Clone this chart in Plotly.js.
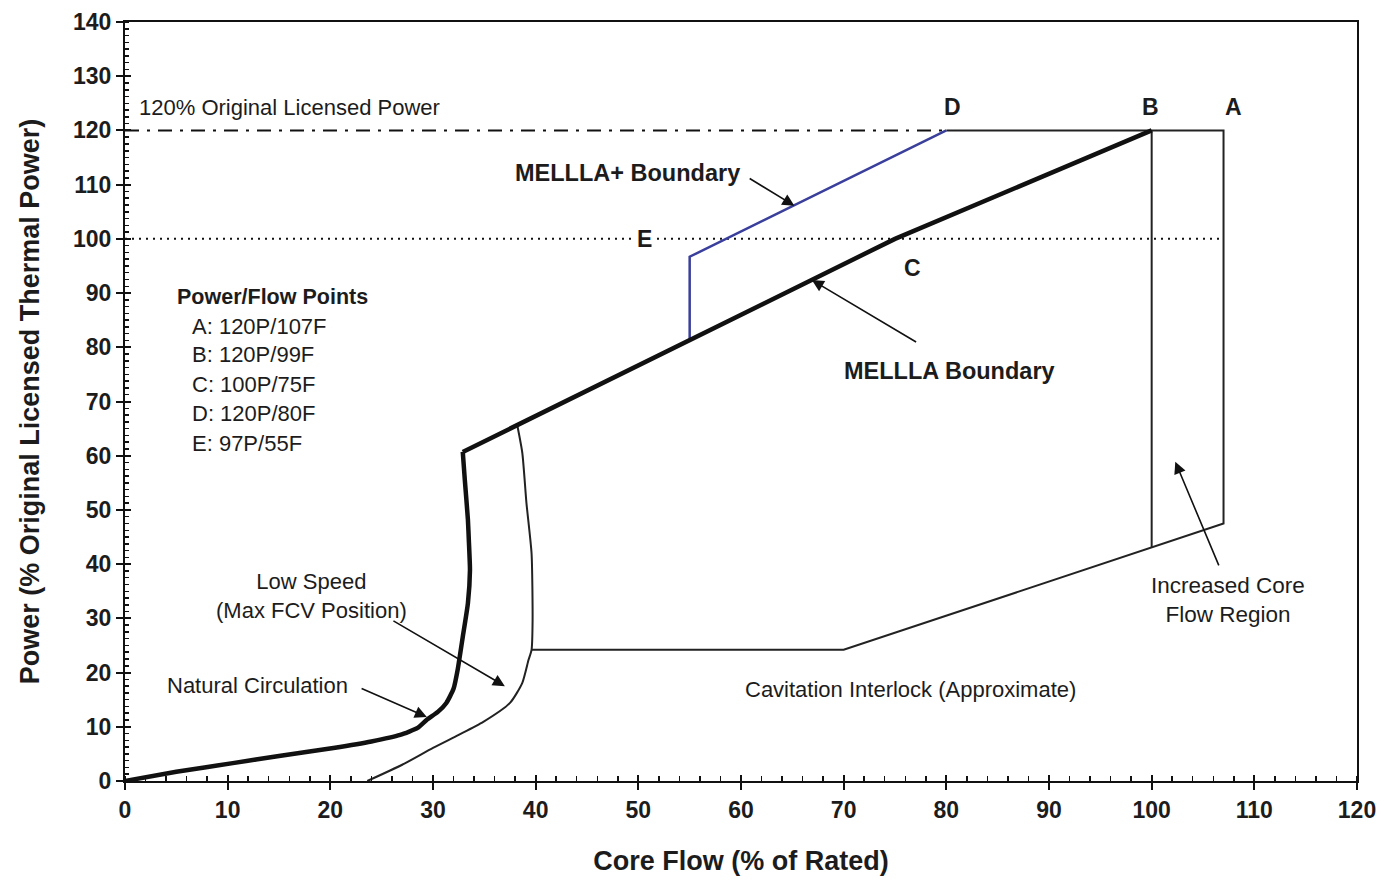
<!DOCTYPE html>
<html>
<head>
<meta charset="utf-8">
<script src="https://cdn.plot.ly/plotly-3.0.1.min.js"></script>
<style>
  body { margin: 0; background: #fff; }
  #chart { width: 1386px; height: 888px; }
</style>
</head>
<body>
<div id="chart"></div>
<script>
// Natural circulation curve (up to the corner of the MELLLA line)
var natFlow  = [0, 5, 10.5, 15, 20.3, 24, 26.8, 28.5, 29.4, 30.5, 31.3, 32, 32.4, 32.9, 33.4, 33.6, 33.5, 33.4, 33.1, 32.9];
var natPower = [0, 1.7, 3.3, 4.6, 6.1, 7.3, 8.5, 9.8, 11.3, 12.8, 14.4, 17, 20.5, 26.6, 32.8, 38.9, 44, 48.2, 55.5, 60.7];

// MELLLA boundary: corner, C, B
var mellFlow  = [32.9, 75, 100];
var mellPower = [60.7, 100, 120];

// Low speed (max FCV position) curve
var lowFlow  = [23.6, 27, 30, 32.5, 34.9, 37.5, 38.7, 39.3, 39.6, 39.7, 39.6, 39.1, 38.7, 38.2];
var lowPower = [0, 3, 6.1, 8.5, 10.9, 14.4, 18.1, 22.3, 24.2, 29.7, 42, 51.3, 60.5, 65.7];

// Cavitation interlock and increased core flow region (A box)
var cavFlow  = [39.6, 70, 107, 107, 80];
var cavPower = [24.2, 24.2, 47.5, 120, 120];

// B vertical
var bFlow  = [100, 100];
var bPower = [43.1, 120];

// MELLLA+ boundary
var plusFlow  = [55, 55, 80];
var plusPower = [81.3, 96.7, 120];

// reference lines
var origFlow = [0, 80], origPower = [120, 120];
var hundFlow = [0, 107], hundPower = [100, 100];

// point letters
var ptLabels = ['D', 'B', 'A', 'E', 'C'];
var ptFlow   = [80.6, 99.9, 108, 50.6, 76.7];
var ptPower  = [124.3, 124.3, 124.3, 100, 94.6];

// power/flow table
var tableRows  = ['A: 120P/107F', 'B: 120P/99F', 'C: 100P/75F', 'D: 120P/80F', 'E: 97P/55F'];
var tableFlow  = 6.3;
var tablePower = [83.9, 78.6, 73.2, 67.7, 62.2];

var font = 'Liberation Sans, Arial, sans-serif';
var ink = '#1c1c1c';

var data = [
  {x: hundFlow, y: hundPower, mode: 'lines', line: {color: '#111', width: 2, dash: '2px,5px'}},
  {x: origFlow, y: origPower, mode: 'lines', line: {color: '#111', width: 2, dash: '14px,8px,3px,8px'}},
  {x: cavFlow, y: cavPower, mode: 'lines', line: {color: '#222', width: 2}},
  {x: bFlow, y: bPower, mode: 'lines', line: {color: '#222', width: 2}},
  {x: lowFlow, y: lowPower, mode: 'lines', line: {color: '#222', width: 2, shape: 'spline', smoothing: 0.6}},
  {x: plusFlow, y: plusPower, mode: 'lines', line: {color: '#3a3f9c', width: 2.5}},
  {x: natFlow, y: natPower, mode: 'lines', line: {color: '#111', width: 4.5, shape: 'spline', smoothing: 0.5}},
  {x: mellFlow, y: mellPower, mode: 'lines', line: {color: '#111', width: 4.5}},
  {x: [], y: [], xaxis: 'x2', yaxis: 'y2'}
];

var annotations = [];
function arrow(tx, ty, hx, hy) {
  annotations.push({x: hx, y: hy, ax: tx, ay: ty, xref: 'x', yref: 'y', axref: 'x', ayref: 'y',
    text: '', showarrow: true, arrowhead: 2, arrowsize: 1.5, arrowwidth: 1.6, arrowcolor: '#111', standoff: 0});
}
function label(txt, x, y, size, bold, anchor, extra) {
  var a = {x: x, y: y, xref: 'x', yref: 'y', text: bold ? '<b>' + txt + '</b>' : txt, showarrow: false,
    xanchor: anchor || 'center', yanchor: 'middle', font: {family: font, size: size, color: ink}};
  for (var k in extra) a[k] = extra[k];
  annotations.push(a);
}

label('120% Original Licensed Power', 1.2, 124.3, 22, false, 'left');
for (var i = 0; i < ptLabels.length; i++) {
  label(ptLabels[i], ptFlow[i], ptPower[i], 23, true, 'center',
    ptLabels[i] === 'E' ? {bgcolor: '#fff', borderpad: 3} : {});
}
label('Power/Flow Points', 4.9, 89.3, 21.5, true, 'left');
for (var j = 0; j < tableRows.length; j++) {
  label(tableRows[j], tableFlow, tablePower[j], 22, false, 'left');
}
label('MELLLA+ Boundary', 48.9, 112.2, 23.5, true);
arrow(60.7, 111.3, 65.2, 106.1);
label('MELLLA Boundary', 80.3, 75.6, 23.5, true);
arrow(77.2, 80.8, 66.9, 92.4);
label('Natural Circulation', 12.9, 17.7, 22, false);
arrow(22.9, 17.2, 29.4, 11.8);
label('Low Speed<br>(Max FCV Position)', 18.2, 34.1, 22, false);
arrow(26, 29.7, 37, 17.5);
label('Increased Core<br>Flow Region', 107.4, 33.4, 22.5, false);
arrow(106.6, 39.5, 102.3, 58.9);
label('Cavitation Interlock (Approximate)', 76.5, 16.8, 22, false);

var axisCommon = {
  showgrid: false, zeroline: false, showline: true, linecolor: '#111', linewidth: 2, mirror: true,
  ticks: 'outside', ticklen: 7, tickwidth: 2, tickcolor: '#111', dtick: 10, tick0: 0,
  tickfont: {family: font, size: 23, color: ink, weight: 'bold'}
};

var layout = {
  width: 1386, height: 888,
  margin: {l: 125, r: 29, t: 22, b: 107},
  paper_bgcolor: '#fff', plot_bgcolor: '#fff',
  showlegend: false,
  xaxis: Object.assign({}, axisCommon, {
    range: [0, 120],
    minor: {ticks: 'inside', dtick: 2, ticklen: 5, tickwidth: 1.5, tickcolor: '#111'},
    title: {text: '<b>Core Flow (% of Rated)</b>', font: {family: font, size: 27, color: ink}, standoff: 30}
  }),
  yaxis: Object.assign({}, axisCommon, {
    range: [0, 140],
    minor: {ticks: 'inside', dtick: 1.25, ticklen: 4, tickwidth: 1.5, tickcolor: '#111'},
    title: {text: '<b>Power (% Original Licensed Thermal Power)</b>', font: {family: font, size: 27, color: ink}, standoff: 26}
  }),
  xaxis2: {overlaying: 'x', anchor: 'y2', range: [0, 120], dtick: 10, tick0: 0, ticks: 'inside', ticklen: 6,
    tickwidth: 2, tickcolor: '#111', showticklabels: false, showgrid: false, zeroline: false, showline: false},
  yaxis2: {overlaying: 'y', anchor: 'x2', range: [0, 140], dtick: 10, tick0: 0, ticks: 'inside', ticklen: 6,
    tickwidth: 2, tickcolor: '#111', showticklabels: false, showgrid: false, zeroline: false, showline: false},
  annotations: annotations
};

Plotly.newPlot('chart', data, layout, {displayModeBar: false, staticPlot: true});
</script>
</body>
</html>
